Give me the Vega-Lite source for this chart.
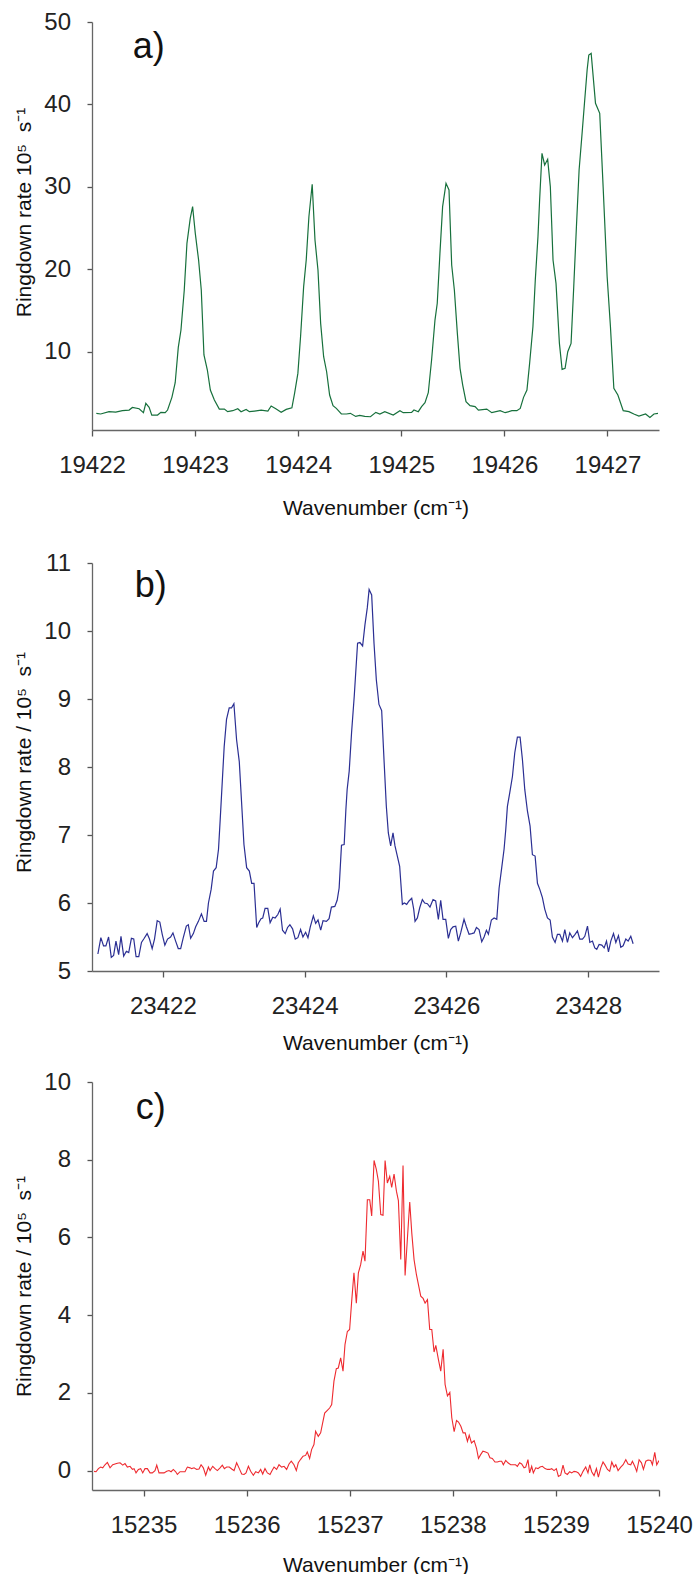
{
  "$schema": "https://vega.github.io/schema/vega-lite/v6.json",
  "padding": {"left": 13, "top": 10, "right": 5, "bottom": 0},
  "spacing": 16,
  "config": {
    "view": {"stroke": null},
    "font": "Liberation Sans",
    "axis": {
      "grid": false,
      "domainColor": "#666666",
      "tickColor": "#555555",
      "domainWidth": 1.3,
      "tickWidth": 1.3,
      "tickSize": 6,
      "labelFont": "Liberation Sans",
      "labelFontSize": 24,
      "labelColor": "#222222",
      "titleFont": "Liberation Sans",
      "titleFontSize": 21,
      "titleFontWeight": "normal",
      "titleColor": "#111111"
    },
    "axisY": {"labelPadding": 16.5, "titlePadding": 9.5, "tickSize": 5, "format": "d"},
    "axisX": {"labelPadding": 17.5, "labelFlush": false, "format": "d"}
  },
  "datasets": {
    "a": [
      {"x":19422.042,"y":2.52},{"x":19422.084,"y":2.44},{"x":19422.165,"y":2.72},{"x":19422.230,"y":2.68},{"x":19422.295,"y":2.84},{"x":19422.360,"y":2.92},{"x":19422.392,"y":3.24},{"x":19422.457,"y":3.08},{"x":19422.499,"y":2.60},{"x":19422.522,"y":3.73},{"x":19422.554,"y":3.24},{"x":19422.580,"y":2.31},{"x":19422.636,"y":2.31},{"x":19422.668,"y":2.64},{"x":19422.710,"y":2.60},{"x":19422.733,"y":2.92},{"x":19422.775,"y":4.46},{"x":19422.807,"y":6.24},{"x":19422.837,"y":10.53},{"x":19422.863,"y":12.63},{"x":19422.895,"y":17.48},{"x":19422.921,"y":23.15},{"x":19422.953,"y":26.18},{"x":19422.976,"y":27.60},{"x":19423.002,"y":24.36},{"x":19423.034,"y":21.12},{"x":19423.060,"y":17.48},{"x":19423.086,"y":9.60},{"x":19423.119,"y":7.78},{"x":19423.148,"y":5.35},{"x":19423.187,"y":4.13},{"x":19423.235,"y":3.04},{"x":19423.284,"y":3.04},{"x":19423.316,"y":2.72},{"x":19423.365,"y":2.84},{"x":19423.414,"y":3.08},{"x":19423.446,"y":2.72},{"x":19423.495,"y":3.00},{"x":19423.527,"y":2.72},{"x":19423.576,"y":2.80},{"x":19423.641,"y":2.92},{"x":19423.706,"y":2.80},{"x":19423.738,"y":3.41},{"x":19423.787,"y":3.04},{"x":19423.835,"y":2.64},{"x":19423.884,"y":3.00},{"x":19423.939,"y":3.20},{"x":19423.965,"y":4.94},{"x":19423.997,"y":7.37},{"x":19424.023,"y":11.82},{"x":19424.053,"y":17.89},{"x":19424.078,"y":21.12},{"x":19424.104,"y":26.38},{"x":19424.136,"y":30.31},{"x":19424.163,"y":23.55},{"x":19424.192,"y":19.91},{"x":19424.218,"y":13.44},{"x":19424.247,"y":9.39},{"x":19424.276,"y":7.57},{"x":19424.305,"y":4.74},{"x":19424.338,"y":3.45},{"x":19424.370,"y":3.12},{"x":19424.419,"y":2.44},{"x":19424.468,"y":2.44},{"x":19424.506,"y":2.52},{"x":19424.558,"y":2.15},{"x":19424.597,"y":2.27},{"x":19424.646,"y":2.15},{"x":19424.701,"y":2.11},{"x":19424.753,"y":2.64},{"x":19424.792,"y":2.44},{"x":19424.840,"y":2.72},{"x":19424.922,"y":2.31},{"x":19424.987,"y":2.84},{"x":19425.019,"y":2.60},{"x":19425.100,"y":2.64},{"x":19425.123,"y":2.92},{"x":19425.165,"y":2.72},{"x":19425.197,"y":3.33},{"x":19425.230,"y":3.81},{"x":19425.262,"y":5.02},{"x":19425.294,"y":8.99},{"x":19425.327,"y":13.84},{"x":19425.349,"y":15.87},{"x":19425.375,"y":21.93},{"x":19425.401,"y":27.60},{"x":19425.434,"y":30.43},{"x":19425.463,"y":29.62},{"x":19425.489,"y":20.52},{"x":19425.515,"y":17.48},{"x":19425.544,"y":12.22},{"x":19425.570,"y":7.98},{"x":19425.596,"y":5.95},{"x":19425.628,"y":3.93},{"x":19425.667,"y":3.45},{"x":19425.716,"y":3.33},{"x":19425.748,"y":2.92},{"x":19425.829,"y":3.04},{"x":19425.878,"y":2.60},{"x":19425.959,"y":2.84},{"x":19426.008,"y":2.60},{"x":19426.073,"y":2.84},{"x":19426.121,"y":2.84},{"x":19426.154,"y":3.12},{"x":19426.186,"y":4.46},{"x":19426.219,"y":5.35},{"x":19426.245,"y":8.58},{"x":19426.277,"y":13.03},{"x":19426.300,"y":18.70},{"x":19426.326,"y":23.96},{"x":19426.342,"y":28.41},{"x":19426.365,"y":34.07},{"x":19426.391,"y":32.65},{"x":19426.420,"y":33.34},{"x":19426.446,"y":30.02},{"x":19426.472,"y":21.12},{"x":19426.501,"y":18.29},{"x":19426.534,"y":11.01},{"x":19426.560,"y":7.86},{"x":19426.589,"y":7.98},{"x":19426.615,"y":10.00},{"x":19426.647,"y":11.01},{"x":19426.673,"y":17.89},{"x":19426.699,"y":25.17},{"x":19426.725,"y":32.05},{"x":19426.754,"y":36.50},{"x":19426.777,"y":40.14},{"x":19426.803,"y":44.2},{"x":19426.819,"y":46.0},{"x":19426.842,"y":46.2},{"x":19426.884,"y":40.14},{"x":19426.925,"y":38.92},{"x":19426.958,"y":30.02},{"x":19426.997,"y":19.10},{"x":19427.029,"y":13.03},{"x":19427.062,"y":5.55},{"x":19427.101,"y":4.74},{"x":19427.153,"y":2.84},{"x":19427.208,"y":2.72},{"x":19427.256,"y":2.44},{"x":19427.305,"y":2.19},{"x":19427.370,"y":2.44},{"x":19427.412,"y":2.03},{"x":19427.451,"y":2.44},{"x":19427.49,"y":2.52}
    ],
    "b": [
      {"x":23421.083,"y":5.25},{"x":23421.125,"y":5.49},{"x":23421.163,"y":5.37},{"x":23421.196,"y":5.37},{"x":23421.234,"y":5.50},{"x":23421.272,"y":5.20},{"x":23421.305,"y":5.23},{"x":23421.338,"y":5.44},{"x":23421.376,"y":5.24},{"x":23421.409,"y":5.51},{"x":23421.447,"y":5.22},{"x":23421.485,"y":5.29},{"x":23421.518,"y":5.27},{"x":23421.556,"y":5.48},{"x":23421.589,"y":5.47},{"x":23421.622,"y":5.21},{"x":23421.660,"y":5.21},{"x":23421.698,"y":5.42},{"x":23421.730,"y":5.47},{"x":23421.778,"y":5.55},{"x":23421.811,"y":5.47},{"x":23421.849,"y":5.33},{"x":23421.882,"y":5.47},{"x":23421.920,"y":5.74},{"x":23421.957,"y":5.72},{"x":23421.991,"y":5.54},{"x":23422.028,"y":5.38},{"x":23422.066,"y":5.47},{"x":23422.109,"y":5.50},{"x":23422.142,"y":5.56},{"x":23422.180,"y":5.44},{"x":23422.217,"y":5.33},{"x":23422.251,"y":5.33},{"x":23422.288,"y":5.49},{"x":23422.331,"y":5.66},{"x":23422.359,"y":5.68},{"x":23422.392,"y":5.48},{"x":23422.430,"y":5.55},{"x":23422.463,"y":5.65},{"x":23422.501,"y":5.73},{"x":23422.544,"y":5.84},{"x":23422.582,"y":5.73},{"x":23422.615,"y":5.73},{"x":23422.643,"y":6.00},{"x":23422.681,"y":6.20},{"x":23422.714,"y":6.47},{"x":23422.752,"y":6.52},{"x":23422.785,"y":6.79},{"x":23422.809,"y":7.23},{"x":23422.842,"y":7.86},{"x":23422.865,"y":8.30},{"x":23422.898,"y":8.70},{"x":23422.936,"y":8.87},{"x":23422.969,"y":8.87},{"x":23423.002,"y":8.93},{"x":23423.040,"y":8.40},{"x":23423.078,"y":8.08},{"x":23423.111,"y":7.47},{"x":23423.144,"y":6.86},{"x":23423.182,"y":6.52},{"x":23423.220,"y":6.47},{"x":23423.253,"y":6.29},{"x":23423.286,"y":6.29},{"x":23423.324,"y":5.64},{"x":23423.352,"y":5.71},{"x":23423.385,"y":5.77},{"x":23423.409,"y":5.78},{"x":23423.442,"y":5.92},{"x":23423.480,"y":5.92},{"x":23423.513,"y":5.71},{"x":23423.551,"y":5.79},{"x":23423.584,"y":5.78},{"x":23423.622,"y":5.83},{"x":23423.655,"y":5.91},{"x":23423.688,"y":5.60},{"x":23423.726,"y":5.55},{"x":23423.759,"y":5.64},{"x":23423.792,"y":5.68},{"x":23423.830,"y":5.62},{"x":23423.868,"y":5.47},{"x":23423.905,"y":5.49},{"x":23423.943,"y":5.61},{"x":23423.976,"y":5.50},{"x":23424.014,"y":5.57},{"x":23424.047,"y":5.49},{"x":23424.080,"y":5.65},{"x":23424.123,"y":5.81},{"x":23424.156,"y":5.70},{"x":23424.189,"y":5.75},{"x":23424.227,"y":5.60},{"x":23424.260,"y":5.74},{"x":23424.307,"y":5.73},{"x":23424.345,"y":5.77},{"x":23424.378,"y":5.94},{"x":23424.426,"y":5.95},{"x":23424.459,"y":6.04},{"x":23424.487,"y":6.22},{"x":23424.520,"y":6.85},{"x":23424.558,"y":6.86},{"x":23424.582,"y":7.37},{"x":23424.600,"y":7.67},{"x":23424.629,"y":7.94},{"x":23424.662,"y":8.50},{"x":23424.700,"y":9.04},{"x":23424.747,"y":9.82},{"x":23424.780,"y":9.83},{"x":23424.818,"y":9.78},{"x":23424.851,"y":10.09},{"x":23424.884,"y":10.34},{"x":23424.910,"y":10.61},{"x":23424.946,"y":10.53},{"x":23424.979,"y":9.82},{"x":23425.012,"y":9.28},{"x":23425.049,"y":8.92},{"x":23425.087,"y":8.83},{"x":23425.120,"y":8.11},{"x":23425.153,"y":7.42},{"x":23425.181,"y":7.03},{"x":23425.214,"y":6.84},{"x":23425.247,"y":7.03},{"x":23425.275,"y":6.84},{"x":23425.308,"y":6.69},{"x":23425.341,"y":6.54},{"x":23425.379,"y":5.98},{"x":23425.407,"y":6.00},{"x":23425.440,"y":5.98},{"x":23425.473,"y":6.03},{"x":23425.511,"y":6.07},{"x":23425.539,"y":5.91},{"x":23425.558,"y":5.73},{"x":23425.591,"y":5.78},{"x":23425.624,"y":5.93},{"x":23425.661,"y":6.05},{"x":23425.694,"y":6.00},{"x":23425.732,"y":5.99},{"x":23425.769,"y":5.94},{"x":23425.812,"y":6.05},{"x":23425.849,"y":6.03},{"x":23425.887,"y":5.76},{"x":23425.920,"y":6.04},{"x":23425.953,"y":5.76},{"x":23425.991,"y":5.76},{"x":23426.028,"y":5.48},{"x":23426.061,"y":5.61},{"x":23426.094,"y":5.65},{"x":23426.132,"y":5.66},{"x":23426.169,"y":5.44},{"x":23426.202,"y":5.56},{"x":23426.249,"y":5.76},{"x":23426.282,"y":5.65},{"x":23426.320,"y":5.54},{"x":23426.358,"y":5.55},{"x":23426.391,"y":5.56},{"x":23426.424,"y":5.64},{"x":23426.461,"y":5.61},{"x":23426.499,"y":5.43},{"x":23426.532,"y":5.50},{"x":23426.565,"y":5.60},{"x":23426.593,"y":5.54},{"x":23426.635,"y":5.75},{"x":23426.673,"y":5.78},{"x":23426.711,"y":5.76},{"x":23426.744,"y":6.22},{"x":23426.781,"y":6.52},{"x":23426.814,"y":6.79},{"x":23426.838,"y":7.08},{"x":23426.861,"y":7.42},{"x":23426.894,"y":7.62},{"x":23426.932,"y":7.86},{"x":23426.965,"y":8.21},{"x":23427.002,"y":8.44},{"x":23427.040,"y":8.44},{"x":23427.073,"y":8.11},{"x":23427.106,"y":7.67},{"x":23427.144,"y":7.35},{"x":23427.181,"y":7.13},{"x":23427.214,"y":6.71},{"x":23427.252,"y":6.69},{"x":23427.285,"y":6.29},{"x":23427.318,"y":6.20},{"x":23427.355,"y":6.08},{"x":23427.388,"y":5.91},{"x":23427.426,"y":5.78},{"x":23427.464,"y":5.75},{"x":23427.496,"y":5.50},{"x":23427.534,"y":5.42},{"x":23427.567,"y":5.54},{"x":23427.600,"y":5.54},{"x":23427.638,"y":5.44},{"x":23427.671,"y":5.61},{"x":23427.708,"y":5.42},{"x":23427.741,"y":5.56},{"x":23427.779,"y":5.49},{"x":23427.816,"y":5.54},{"x":23427.849,"y":5.59},{"x":23427.882,"y":5.47},{"x":23427.920,"y":5.47},{"x":23427.953,"y":5.51},{"x":23427.991,"y":5.66},{"x":23428.024,"y":5.42},{"x":23428.061,"y":5.44},{"x":23428.094,"y":5.34},{"x":23428.122,"y":5.32},{"x":23428.155,"y":5.39},{"x":23428.193,"y":5.38},{"x":23428.226,"y":5.34},{"x":23428.259,"y":5.44},{"x":23428.287,"y":5.28},{"x":23428.320,"y":5.44},{"x":23428.358,"y":5.55},{"x":23428.391,"y":5.42},{"x":23428.428,"y":5.52},{"x":23428.461,"y":5.35},{"x":23428.494,"y":5.37},{"x":23428.532,"y":5.47},{"x":23428.565,"y":5.44},{"x":23428.602,"y":5.51},{"x":23428.635,"y":5.40}
    ],
    "c": [
      {"x":15234.520,"y":-0.02},{"x":15234.539,"y":-0.03},{"x":15234.562,"y":0.05},{"x":15234.584,"y":0.09},{"x":15234.604,"y":0.07},{"x":15234.626,"y":0.15},{"x":15234.649,"y":0.21},{"x":15234.675,"y":0.07},{"x":15234.701,"y":0.15},{"x":15234.723,"y":0.17},{"x":15234.746,"y":0.19},{"x":15234.772,"y":0.20},{"x":15234.798,"y":0.14},{"x":15234.820,"y":0.18},{"x":15234.843,"y":0.09},{"x":15234.869,"y":0.11},{"x":15234.892,"y":0.03},{"x":15234.908,"y":0.05},{"x":15234.927,"y":-0.06},{"x":15234.950,"y":0.03},{"x":15234.972,"y":0.05},{"x":15234.992,"y":-0.06},{"x":15235.014,"y":0.05},{"x":15235.037,"y":0.05},{"x":15235.063,"y":-0.06},{"x":15235.085,"y":-0.06},{"x":15235.111,"y":0.00},{"x":15235.128,"y":0.14},{"x":15235.150,"y":-0.06},{"x":15235.176,"y":-0.06},{"x":15235.199,"y":-0.06},{"x":15235.225,"y":-0.02},{"x":15235.247,"y":0.00},{"x":15235.267,"y":-0.03},{"x":15235.289,"y":0.03},{"x":15235.312,"y":-0.03},{"x":15235.328,"y":-0.10},{"x":15235.354,"y":-0.03},{"x":15235.376,"y":-0.03},{"x":15235.402,"y":-0.03},{"x":15235.425,"y":0.09},{"x":15235.451,"y":0.07},{"x":15235.467,"y":0.05},{"x":15235.490,"y":0.07},{"x":15235.515,"y":0.03},{"x":15235.538,"y":0.04},{"x":15235.558,"y":0.15},{"x":15235.580,"y":0.07},{"x":15235.603,"y":-0.12},{"x":15235.629,"y":0.09},{"x":15235.645,"y":0.00},{"x":15235.671,"y":0.11},{"x":15235.693,"y":0.05},{"x":15235.716,"y":0.00},{"x":15235.742,"y":0.07},{"x":15235.764,"y":0.14},{"x":15235.784,"y":0.05},{"x":15235.806,"y":0.09},{"x":15235.832,"y":0.09},{"x":15235.855,"y":0.04},{"x":15235.878,"y":0.00},{"x":15235.903,"y":0.20},{"x":15235.929,"y":0.05},{"x":15235.952,"y":-0.09},{"x":15235.975,"y":-0.10},{"x":15235.994,"y":-0.06},{"x":15236.017,"y":0.11},{"x":15236.039,"y":-0.02},{"x":15236.065,"y":-0.12},{"x":15236.088,"y":-0.03},{"x":15236.114,"y":-0.06},{"x":15236.136,"y":0.03},{"x":15236.156,"y":-0.09},{"x":15236.178,"y":0.05},{"x":15236.201,"y":-0.06},{"x":15236.227,"y":-0.10},{"x":15236.243,"y":-0.02},{"x":15236.266,"y":0.09},{"x":15236.291,"y":0.03},{"x":15236.314,"y":0.15},{"x":15236.340,"y":0.09},{"x":15236.363,"y":0.11},{"x":15236.388,"y":0.03},{"x":15236.411,"y":0.17},{"x":15236.433,"y":0.24},{"x":15236.459,"y":0.15},{"x":15236.482,"y":0.00},{"x":15236.501,"y":0.20},{"x":15236.524,"y":0.29},{"x":15236.547,"y":0.37},{"x":15236.572,"y":0.39},{"x":15236.588,"y":0.48},{"x":15236.611,"y":0.31},{"x":15236.630,"y":0.54},{"x":15236.653,"y":0.67},{"x":15236.669,"y":1.01},{"x":15236.695,"y":0.88},{"x":15236.718,"y":0.97},{"x":15236.734,"y":1.18},{"x":15236.757,"y":1.48},{"x":15236.783,"y":1.55},{"x":15236.805,"y":1.61},{"x":15236.825,"y":1.70},{"x":15236.847,"y":2.30},{"x":15236.870,"y":2.62},{"x":15236.889,"y":2.64},{"x":15236.912,"y":2.90},{"x":15236.935,"y":2.56},{"x":15236.954,"y":3.24},{"x":15236.977,"y":3.58},{"x":15236.999,"y":3.63},{"x":15237.019,"y":4.36},{"x":15237.041,"y":5.09},{"x":15237.064,"y":4.31},{"x":15237.084,"y":5.09},{"x":15237.106,"y":5.30},{"x":15237.129,"y":5.65},{"x":15237.148,"y":5.39},{"x":15237.171,"y":6.97},{"x":15237.194,"y":6.97},{"x":15237.213,"y":6.55},{"x":15237.236,"y":7.98},{"x":15237.258,"y":7.75},{"x":15237.278,"y":7.45},{"x":15237.301,"y":6.59},{"x":15237.323,"y":6.57},{"x":15237.343,"y":7.98},{"x":15237.365,"y":7.40},{"x":15237.388,"y":7.57},{"x":15237.407,"y":7.29},{"x":15237.430,"y":7.63},{"x":15237.453,"y":7.19},{"x":15237.472,"y":6.95},{"x":15237.495,"y":5.43},{"x":15237.517,"y":7.85},{"x":15237.537,"y":5.02},{"x":15237.560,"y":5.99},{"x":15237.582,"y":6.91},{"x":15237.602,"y":6.11},{"x":15237.624,"y":5.43},{"x":15237.647,"y":5.04},{"x":15237.666,"y":4.79},{"x":15237.689,"y":4.49},{"x":15237.712,"y":4.43},{"x":15237.731,"y":4.31},{"x":15237.754,"y":4.40},{"x":15237.776,"y":3.63},{"x":15237.796,"y":3.63},{"x":15237.818,"y":3.05},{"x":15237.835,"y":3.22},{"x":15237.860,"y":2.86},{"x":15237.883,"y":2.56},{"x":15237.906,"y":3.12},{"x":15237.925,"y":2.22},{"x":15237.948,"y":1.92},{"x":15237.971,"y":2.01},{"x":15237.990,"y":1.36},{"x":15238.013,"y":1.00},{"x":15238.036,"y":1.29},{"x":15238.055,"y":1.25},{"x":15238.078,"y":1.14},{"x":15238.100,"y":0.97},{"x":15238.120,"y":0.97},{"x":15238.142,"y":0.75},{"x":15238.159,"y":0.91},{"x":15238.181,"y":0.71},{"x":15238.207,"y":0.77},{"x":15238.230,"y":0.57},{"x":15238.249,"y":0.31},{"x":15238.270,"y":0.41},{"x":15238.292,"y":0.50},{"x":15238.318,"y":0.48},{"x":15238.341,"y":0.45},{"x":15238.360,"y":0.33},{"x":15238.383,"y":0.31},{"x":15238.409,"y":0.22},{"x":15238.432,"y":0.22},{"x":15238.454,"y":0.24},{"x":15238.474,"y":0.24},{"x":15238.490,"y":0.15},{"x":15238.513,"y":0.26},{"x":15238.535,"y":0.20},{"x":15238.561,"y":0.15},{"x":15238.584,"y":0.15},{"x":15238.609,"y":0.15},{"x":15238.626,"y":0.11},{"x":15238.648,"y":0.20},{"x":15238.668,"y":0.17},{"x":15238.691,"y":0.07},{"x":15238.707,"y":0.09},{"x":15238.729,"y":0.28},{"x":15238.745,"y":-0.06},{"x":15238.765,"y":0.11},{"x":15238.781,"y":-0.06},{"x":15238.804,"y":0.07},{"x":15238.826,"y":0.05},{"x":15238.846,"y":0.09},{"x":15238.869,"y":0.11},{"x":15238.895,"y":0.05},{"x":15238.917,"y":0.03},{"x":15238.940,"y":0.03},{"x":15238.959,"y":0.05},{"x":15238.982,"y":0.00},{"x":15239.004,"y":0.05},{"x":15239.024,"y":-0.15},{"x":15239.046,"y":-0.12},{"x":15239.069,"y":0.14},{"x":15239.088,"y":-0.06},{"x":15239.111,"y":-0.10},{"x":15239.134,"y":-0.03},{"x":15239.153,"y":-0.06},{"x":15239.176,"y":-0.02},{"x":15239.198,"y":-0.03},{"x":15239.218,"y":-0.06},{"x":15239.240,"y":-0.15},{"x":15239.263,"y":-0.02},{"x":15239.289,"y":0.09},{"x":15239.311,"y":-0.06},{"x":15239.328,"y":0.15},{"x":15239.347,"y":-0.03},{"x":15239.370,"y":-0.13},{"x":15239.393,"y":0.05},{"x":15239.412,"y":-0.17},{"x":15239.435,"y":0.07},{"x":15239.457,"y":0.22},{"x":15239.477,"y":0.14},{"x":15239.500,"y":0.03},{"x":15239.522,"y":-0.02},{"x":15239.542,"y":0.22},{"x":15239.564,"y":0.09},{"x":15239.581,"y":0.15},{"x":15239.603,"y":0.00},{"x":15239.629,"y":0.09},{"x":15239.652,"y":0.15},{"x":15239.678,"y":0.28},{"x":15239.700,"y":0.17},{"x":15239.726,"y":0.15},{"x":15239.742,"y":0.24},{"x":15239.765,"y":0.11},{"x":15239.784,"y":-0.02},{"x":15239.807,"y":0.28},{"x":15239.830,"y":0.20},{"x":15239.849,"y":0.03},{"x":15239.872,"y":0.24},{"x":15239.894,"y":0.27},{"x":15239.920,"y":0.26},{"x":15239.936,"y":0.15},{"x":15239.959,"y":0.47},{"x":15239.978,"y":0.15},{"x":15240.000,"y":0.26}
    ]
  },
  "vconcat": [
    {
      "width": 567,
      "height": 408,
      "layer": [
        {
          "data": {"name": "a"},
          "mark": {"type": "line", "color": "#17703c", "strokeWidth": 1.2, "clip": true},
          "encoding": {
            "x": {"field": "x", "type": "quantitative",
              "scale": {"domain": [19422, 19427.5], "nice": false, "zero": false},
              "axis": {"values": [19422, 19423, 19424, 19425, 19426, 19427],
                "title": ["Wavenumber (cm⁻¹)", ""], "titleLineHeight": 16, "titlePadding": 20}},
            "y": {"field": "y", "type": "quantitative",
              "scale": {"domain": [0.5, 50], "nice": false, "zero": false},
              "axis": {"values": [10, 20, 30, 40, 50], "title": "Ringdown rate 10⁵\u00a0 s⁻¹", "titleY": 190}}
          }
        },
        {
          "data": {"values": [{}]},
          "mark": {"type": "text", "fontSize": 36, "font": "Liberation Sans", "color": "#111111", "align": "center", "baseline": "middle"},
          "encoding": {
            "x": {"datum": 19422.55, "type": "quantitative"},
            "y": {"datum": 47, "type": "quantitative"},
            "text": {"value": "a)"}
          }
        }
      ]
    },
    {
      "width": 567,
      "height": 408,
      "layer": [
        {
          "data": {"name": "b"},
          "mark": {"type": "line", "color": "#2b2f93", "strokeWidth": 1.2, "clip": true},
          "encoding": {
            "x": {"field": "x", "type": "quantitative",
              "scale": {"domain": [23421, 23429], "nice": false, "zero": false},
              "axis": {"values": [23422, 23424, 23426, 23428],
                "title": "Wavenumber (cm⁻¹)", "titlePadding": 14}},
            "y": {"field": "y", "type": "quantitative",
              "scale": {"domain": [5, 11], "nice": false, "zero": false},
              "axis": {"values": [5, 6, 7, 8, 9, 10, 11], "title": "Ringdown rate / 10⁵\u00a0 s⁻¹", "titleY": 199}}
          }
        },
        {
          "data": {"values": [{}]},
          "mark": {"type": "text", "fontSize": 36, "font": "Liberation Sans", "color": "#111111", "align": "center", "baseline": "middle"},
          "encoding": {
            "x": {"datum": 23421.83, "type": "quantitative"},
            "y": {"datum": 10.66, "type": "quantitative"},
            "text": {"value": "b)"}
          }
        }
      ]
    },
    {
      "width": 567,
      "height": 408,
      "layer": [
        {
          "data": {"name": "c"},
          "mark": {"type": "line", "color": "#ee2a2f", "strokeWidth": 1.1, "clip": true},
          "encoding": {
            "x": {"field": "x", "type": "quantitative",
              "scale": {"domain": [15234.5, 15240], "nice": false, "zero": false},
              "axis": {"values": [15235, 15236, 15237, 15238, 15239, 15240],
                "title": "Wavenumber (cm⁻¹)", "titlePadding": 17}},
            "y": {"field": "y", "type": "quantitative",
              "scale": {"domain": [-0.5, 10], "nice": false, "zero": false},
              "axis": {"values": [0, 2, 4, 6, 8, 10], "title": "Ringdown rate / 10⁵\u00a0 s⁻¹"}}
          }
        },
        {
          "data": {"values": [{}]},
          "mark": {"type": "text", "fontSize": 36, "font": "Liberation Sans", "color": "#111111", "align": "center", "baseline": "middle"},
          "encoding": {
            "x": {"datum": 15235.07, "type": "quantitative"},
            "y": {"datum": 9.32, "type": "quantitative"},
            "text": {"value": "c)"}
          }
        }
      ]
    }
  ]
}
